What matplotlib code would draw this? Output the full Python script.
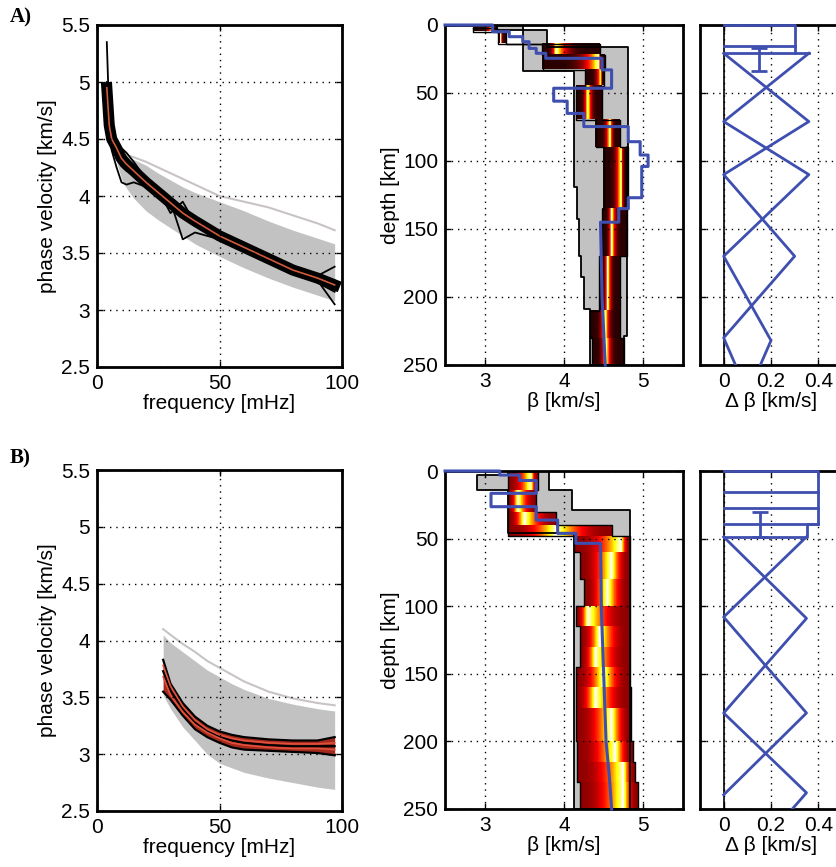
"""
Дисперсионные кривые и модели скорости (панели A и B).
"""

import numpy as np
import matplotlib.pyplot as plt

plt.rcParams['font.family'] = ['Liberation Sans', 'DejaVu Sans']

BLUE = '#3f4fb0'
GRAY = '#c2c2c2'

# ---------- A: фазовая скорость ----------
freq_a = [4, 5, 6, 8, 10, 12, 15, 20, 25, 30, 35, 40, 50, 60, 70, 80, 90, 97]
fan_lo_a = [4.9, 4.6, 4.45, 4.3, 4.15, 4.07, 3.98, 3.87, 3.79, 3.72, 3.65, 3.58, 3.47, 3.37, 3.28, 3.2, 3.13, 3.08]
fan_hi_a = [4.95, 4.65, 4.5, 4.42, 4.38, 4.35, 4.32, 4.27, 4.2, 4.14, 4.08, 4.03, 3.95, 3.87, 3.78, 3.7, 3.63, 3.58]
top_a = [4.95, 4.65, 4.5, 4.42, 4.38, 4.36, 4.34, 4.3, 4.25, 4.2, 4.15, 4.1, 4.0, 3.95, 3.9, 3.83, 3.76, 3.7]
mean_a = [4.95, 4.62, 4.5, 4.42, 4.33, 4.28, 4.22, 4.12, 4.03, 3.94, 3.85, 3.78, 3.65, 3.55, 3.45, 3.35, 3.28, 3.22]
black_a = [
    [5.35, 4.7, 4.5, 4.45, 4.42, 4.38, 4.3, 4.15, 4.05, 3.98, 3.88, 3.8, 3.66, 3.56, 3.46, 3.36, 3.3, 3.38],
    [4.9, 4.55, 4.4, 4.25, 4.12, 4.1, 4.12, 4.08, 4.0, 3.95, 3.62, 3.68, 3.62, 3.53, 3.44, 3.34, 3.26, 3.05],
    [5.0, 4.65, 4.48, 4.36, 4.3, 4.25, 4.2, 4.12, 4.05, 3.85, 3.95, 3.76, 3.64, 3.55, 3.43, 3.33, 3.24, 3.16],
    [4.95, 4.6, 4.45, 4.32, 4.26, 4.22, 4.18, 4.1, 4.02, 3.95, 3.86, 3.77, 3.67, 3.57, 3.47, 3.37, 3.3, 3.26],
    [4.95, 4.6, 4.47, 4.38, 4.3, 4.26, 4.2, 4.1, 4.0, 3.92, 3.84, 3.76, 3.63, 3.53, 3.44, 3.34, 3.26, 3.2],
]

# ---------- B: фазовая скорость ----------
freq_b = [27, 30, 35, 40, 45, 50, 55, 60, 70, 80, 90, 97]
fan_lo_b = [3.52, 3.4, 3.24, 3.12, 3.0, 2.92, 2.88, 2.84, 2.79, 2.75, 2.71, 2.69]
fan_hi_b = [4.05, 3.98, 3.9, 3.82, 3.74, 3.68, 3.62, 3.57, 3.49, 3.44, 3.4, 3.38]
top_b = [4.1, 4.05, 3.97, 3.9, 3.82, 3.76, 3.7, 3.64, 3.55, 3.49, 3.45, 3.43]
band_hi_b = [3.83, 3.62, 3.45, 3.33, 3.25, 3.2, 3.17, 3.15, 3.13, 3.12, 3.12, 3.15]
band_lo_b = [3.55, 3.48, 3.34, 3.22, 3.15, 3.1, 3.06, 3.04, 3.03, 3.02, 3.01, 2.99]
mid_b = [3.73, 3.56, 3.4, 3.28, 3.2, 3.15, 3.12, 3.1, 3.08, 3.07, 3.07, 3.07]
red1_b = [3.78, 3.6, 3.42, 3.3, 3.22, 3.17, 3.14, 3.12, 3.1, 3.09, 3.09, 3.1]
red2_b = [3.68, 3.52, 3.37, 3.26, 3.19, 3.14, 3.1, 3.08, 3.06, 3.05, 3.05, 3.04]

# ---------- A: модель скорости ----------
gray_edges_a = [0, 4, 16, 34, 90, 119, 143, 170, 185, 209, 229, 250]
gray_lo_a = [3.15, 3.48, 3.48, 4.13, 4.13, 4.17, 4.19, 4.22, 4.25, 4.33, 4.33]
gray_hi_a = [3.48, 3.78, 4.81, 4.81, 4.79, 4.79, 4.79, 4.79, 4.79, 4.79, 4.75]

hot_edges_a = [2, 5, 14, 22, 33, 45, 70, 90, 135, 170, 210, 230, 250]
hot_lo_a = [2.85, 3.17, 3.72, 3.73, 4.27, 4.15, 4.4, 4.5, 4.48, 4.44, 4.33, 4.35]
hot_hi_a = [3.15, 3.27, 4.45, 4.52, 4.5, 4.48, 4.7, 4.81, 4.79, 4.71, 4.71, 4.75]
hot_mode_a = [3.1, 3.2, 3.9, 4.44, 4.47, 4.3, 4.58, 4.72, 4.6, 4.55, 4.52, 4.53]

true_v_a = [2.5, 3.1, 3.1, 3.31, 3.31, 3.48, 3.48, 3.56, 3.56, 3.65, 3.65, 3.77, 3.77, 4.48, 4.48,
            4.6, 4.6, 3.87, 3.87, 4.04, 4.04, 4.25, 4.25, 4.81, 4.81, 4.96, 4.96, 5.06, 5.06, 4.98,
            4.98, 4.81, 4.81, 4.69, 4.69, 4.46, 4.48, 4.52]
true_d_a = [0, 0, 4.9, 4.9, 8.6, 8.6, 12.3, 12.3, 17.2, 17.2, 20.8, 20.8, 24.5, 24.5, 33,
            33, 46.5, 46.5, 56, 56, 65, 65, 74.7, 74.7, 85.8, 85.8, 95.6, 95.6, 104, 104,
            127, 127, 135, 135, 145, 145, 200, 250]

# ---------- B: модель скорости ----------
gray_edges_b = [0, 3, 14, 29, 46, 250]
gray_lo_b = [3.3, 2.9, 3.3, 3.3, 4.13]
gray_hi_b = [3.81, 3.81, 4.1, 4.83, 4.83]

hot_edges_b = [0, 14, 30, 40, 48, 60, 80, 100, 115, 130, 145, 160, 175, 200, 215, 230, 250]
hot_lo_b = [3.3, 3.3, 3.3, 3.3, 4.13, 4.2, 4.25, 4.15, 4.2, 4.2, 4.15, 4.15, 4.15, 4.17, 4.17, 4.2]
hot_hi_b = [3.67, 3.65, 3.9, 4.6, 4.83, 4.83, 4.83, 4.83, 4.83, 4.83, 4.83, 4.85, 4.85, 4.87, 4.9, 4.93]
hot_mode_b = [3.58, 3.42, 3.5, 3.9, 4.72, 4.6, 4.55, 4.3, 4.45, 4.4, 4.5, 4.4, 4.6, 4.65, 4.75, 4.75]

true_v_b = [2.5, 3.19, 3.19, 3.44, 3.44, 3.65, 3.65, 3.08, 3.08, 3.65, 3.65, 3.92, 3.92, 4.15,
            4.15, 4.46, 4.47, 4.5, 4.53, 4.57, 4.6]
true_d_b = [0, 0, 3, 3, 7, 7, 16.5, 16.5, 26.4, 26.4, 36.3, 36.3, 46.1, 46.1,
            53.5, 53.5, 100, 150, 200, 225, 250]

# ---------- неопределенность Δβ ----------
box_a = [([0, 0.3, 0.3], [0, 0, 20.8]), ([0, 0.3], [15.5, 15.5]), ([0, 0.36], [20.8, 20.8])]
err_a = (0.15, 17, 34)
zig_a = [([0, 0.36, 0, 0.3, 0, 0.05], [20.8, 71, 110, 170, 230, 250]),
         ([0.36, 0, 0.36, 0, 0.2, 0.155], [20.8, 71, 110, 170, 232, 250])]

box_b = [([0, 0.4, 0.4, 0.35, 0.35, 0], [0, 0, 39, 39, 48.7, 48.7]),
         ([0, 0.4], [15.5, 15.5]), ([0, 0.4], [27, 27]), ([0, 0.4], [39, 39])]
err_b = (0.155, 30, 48.7)
zig_b = [([0, 0.35, 0, 0.35, 0.29], [48.7, 109, 179, 238, 250]),
         ([0.35, 0, 0.35, 0], [48.7, 108, 179, 239.5])]


def style(ax):
    ax.tick_params(direction='in', top=True, right=True, length=4, width=1,
                   labelsize=15, pad=5)
    for s in ax.spines.values():
        s.set_linewidth(2)
    ax.grid(True, color='k', linestyle=(0, (1, 3.5)), linewidth=1)
    ax.set_axisbelow(False)


def steps(edges, vals):
    ys = np.repeat(edges, 2)[1:-1]
    xs = np.repeat(vals, 2)
    return xs, ys


def plot_dispersion(ax, freq, lo, hi, top):
    ax.fill_between(freq, lo, hi, color=GRAY, lw=0)
    ax.plot(freq, top, color='#c9c4c4', lw=1.5)
    ax.set_xlim(0, 100)
    ax.set_ylim(2.5, 5.5)
    ax.set_xticks([0, 50, 100])
    ax.set_yticks([2.5, 3, 3.5, 4, 4.5, 5, 5.5])
    ax.set_yticklabels(['2.5', '3', '3.5', '4', '4.5', '5', '5.5'])
    ax.set_xlabel('frequency [mHz]', fontsize=15, labelpad=1)
    ax.set_ylabel('phase velocity [km/s]', fontsize=15, labelpad=3)
    style(ax)


def plot_model(ax, g_edges, g_lo, g_hi, h_edges, h_lo, h_hi, h_mode, tv, td, power, floor):
    # серая область всех моделей
    xl, ys = steps(g_edges, g_lo)
    xh, _ = steps(g_edges, g_hi)
    ax.fill_betweenx(ys, xl, xh, color=GRAY, lw=0)
    ax.plot(np.r_[xl, xh[::-1], xl[0]], np.r_[ys, ys[::-1], ys[0]], color='k', lw=1.3)

    # плотность апостериорного распределения
    vv = np.linspace(2.5, 5.5, 601)
    dd = np.arange(0, 250, 0.5) + 0.25
    img = np.full((len(dd), len(vv)), np.nan)
    for top, bot, lo, hi, mo in zip(h_edges[:-1], h_edges[1:], h_lo, h_hi, h_mode):
        rows = (dd >= top) & (dd < bot)
        t = np.where(vv < mo, (vv - lo) / (mo - lo), (hi - vv) / (hi - mo))
        t = floor + (1 - floor) * np.clip(t, 0, 1) ** power
        t[(vv < lo) | (vv > hi)] = np.nan
        img[rows] = t
    cmap = plt.get_cmap('hot').copy()
    cmap.set_bad(alpha=0)
    ax.imshow(img, extent=[2.5, 5.5, 250, 0], aspect='auto', cmap=cmap,
              vmin=0, vmax=1, interpolation='nearest', zorder=1.5)
    xl, ys = steps(h_edges, h_lo)
    xh, _ = steps(h_edges, h_hi)
    ax.plot(np.r_[xl, xh[::-1], xl[0]], np.r_[ys, ys[::-1], ys[0]], color='k', lw=1.0, zorder=1.6)

    ax.plot(tv, td, color=BLUE, lw=2.2, zorder=3, clip_on=False)
    ax.set_xlim(2.5, 5.5)
    ax.set_ylim(250, 0)
    ax.set_xticks([3, 4, 5])
    ax.set_yticks([0, 50, 100, 150, 200, 250])
    ax.set_xlabel('β [km/s]', fontsize=15, labelpad=1)
    ax.set_ylabel('depth [km]', fontsize=15, labelpad=2)
    style(ax)


def plot_uncert(ax, boxes, err, zigs):
    ax.axvline(0, color='k', lw=1.2)
    for xs, ys in boxes:
        ax.plot(xs, ys, color=BLUE, lw=2, clip_on=False, zorder=3)
    x0, d0, d1 = err
    ax.errorbar([x0], [(d0 + d1) / 2], yerr=[(d1 - d0) / 2], fmt='none',
                ecolor=BLUE, elinewidth=2, capsize=6, capthick=2, zorder=3)
    for xs, ys in zigs:
        ax.plot(xs, ys, color=BLUE, lw=2, zorder=3)
    ax.set_xlim(-0.1, 0.5)
    ax.set_ylim(250, 0)
    ax.set_xticks([0, 0.2, 0.4])
    ax.set_xticklabels(['0', '0.2', '0.4'])
    ax.set_yticks([0, 50, 100, 150, 200, 250])
    ax.set_yticklabels([])
    ax.set_xlabel('Δ β [km/s]', fontsize=15, labelpad=1)
    style(ax)


W, H = 836, 867
fig = plt.figure(figsize=(W / 100, H / 100), dpi=100)


def add_ax(x0, x1, y0, y1):
    return fig.add_axes([x0 / W, 1 - y1 / H, (x1 - x0) / W, (y1 - y0) / H])


# панель A
ax = add_ax(97, 342, 25, 367)
plot_dispersion(ax, freq_a, fan_lo_a, fan_hi_a, top_a)
ax.plot(freq_a, mean_a, color='k', lw=8)
for c in black_a:
    ax.plot(freq_a, c, color='k', lw=1.3)
ax.plot(freq_a, mean_a, color='#d05a3a', lw=1.2)

ax = add_ax(445, 683, 25, 365)
plot_model(ax, gray_edges_a, gray_lo_a, gray_hi_a, hot_edges_a, hot_lo_a, hot_hi_a,
           hot_mode_a, true_v_a, true_d_a, power=5, floor=0.05)

ax = add_ax(700, 842, 25, 365)
plot_uncert(ax, box_a, err_a, zig_a)

# панель B
ax = add_ax(97, 342, 470, 811)
plot_dispersion(ax, freq_b, fan_lo_b, fan_hi_b, top_b)
ax.fill_between(freq_b, band_lo_b, band_hi_b, color='#a52a1e', lw=0)
for c in (band_hi_b, band_lo_b, mid_b):
    ax.plot(freq_b, c, color='k', lw=1.6)
ax.plot(freq_b, red1_b, color='#e0503a', lw=1.2)
ax.plot(freq_b, red2_b, color='#e0503a', lw=1.2)

ax = add_ax(445, 683, 471, 809)
plot_model(ax, gray_edges_b, gray_lo_b, gray_hi_b, hot_edges_b, hot_lo_b, hot_hi_b,
           hot_mode_b, true_v_b, true_d_b, power=2.5, floor=0.2)

ax = add_ax(700, 842, 471, 809)
plot_uncert(ax, box_b, err_b, zig_b)

fig.text(10 / W, 1 - 17 / H, 'A)', family='Liberation Serif', fontweight='bold',
         fontsize=15, va='center')
fig.text(10 / W, 1 - 458 / H, 'B)', family='Liberation Serif', fontweight='bold',
         fontsize=15, va='center')

plt.savefig('out.png', dpi=100)
plt.close()
